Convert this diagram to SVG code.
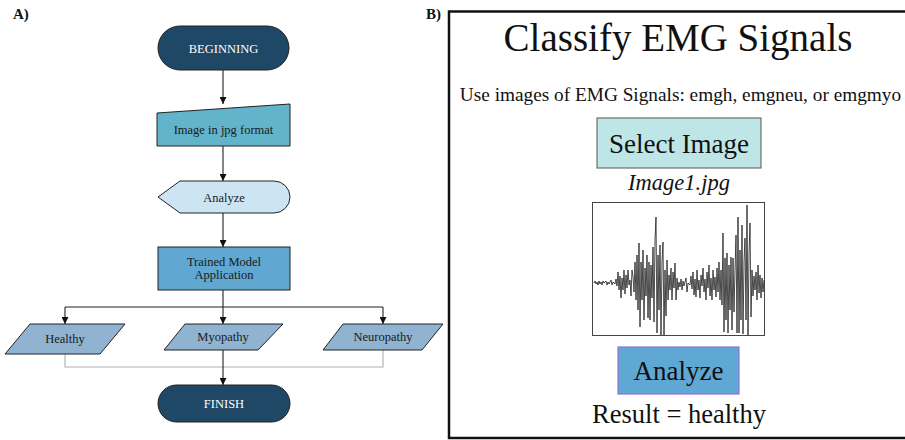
<svg xmlns="http://www.w3.org/2000/svg" width="905" height="440" viewBox="0 0 905 440">
  <defs>
    <marker id="arrow" viewBox="0 0 10 10" refX="10" refY="5" markerWidth="7" markerHeight="7" markerUnits="userSpaceOnUse" orient="auto">
      <path d="M0,0 L10,5 L0,10 Z" fill="#111"/>
    </marker>
  </defs>
  <style>
    text { font-family: 'Liberation Serif', 'DejaVu Serif', serif; }
    .lbl { font-size: 12.5px; fill: #1a1a1a; text-anchor: middle; }
    .lblw { font-size: 12.5px; fill: #ffffff; text-anchor: middle; }
    .panel { font-size: 15px; font-weight: bold; fill: #111; }
    .node { stroke: #222; stroke-width: 1; }
    .term { fill: #1e4866; }
    .outcome { fill: #8fb3d0; }
    .conn { fill: none; stroke: #222; stroke-width: 1.1; }
    .ui { fill: #111; text-anchor: middle; }
  </style>
  <rect width="905" height="440" fill="#ffffff"/>

  <!-- Panel A: flowchart -->
  <text class="panel" x="13" y="19">A)</text>

  <g id="connectors">
    <path class="conn" d="M223,70 L223,104" marker-end="url(#arrow)"/>
    <path class="conn" d="M223,146 L223,181" marker-end="url(#arrow)"/>
    <path class="conn" d="M223,213 L223,247" marker-end="url(#arrow)"/>
    <path class="conn" d="M223,290 L223,324" marker-end="url(#arrow)"/>
    <path class="conn" d="M65,307 L383,307"/>
    <path class="conn" d="M65,307 L65,324" marker-end="url(#arrow)"/>
    <path class="conn" d="M383,307 L383,324" marker-end="url(#arrow)"/>
    <path fill="none" stroke="#b0b0b0" stroke-width="1.1" d="M65,354 L65,367 L383,367 L383,350"/>
    <path class="conn" d="M223,350 L223,385" marker-end="url(#arrow)"/>
  </g>

  <g id="beginning">
    <rect class="node term" x="158" y="26" width="131" height="44" rx="22"/>
    <text class="lblw" x="223.5" y="52.5">BEGINNING</text>
  </g>

  <g id="image-input">
    <path class="node" fill="#61b4c9" d="M157,113 L290,104 L290,146 L157,146 Z"/>
    <text class="lbl" x="223.5" y="133.5">Image in jpg format</text>
  </g>

  <g id="analyze-step">
    <path class="node" fill="#cde5f3" d="M158,197 L180,181 L274,181 A16,16 0 0 1 274,213 L180,213 Z"/>
    <text class="lbl" x="224" y="201.5">Analyze</text>
  </g>

  <g id="trained-model">
    <rect class="node" fill="#60a7d2" x="158" y="247" width="132" height="43"/>
    <text class="lbl" x="224" y="266">Trained Model</text>
    <text class="lbl" x="224" y="279">Application</text>
  </g>

  <g id="healthy">
    <path class="node outcome" d="M30,324 L125,324 L100,354 L5,354 Z"/>
    <text class="lbl" x="65" y="343">Healthy</text>
  </g>

  <g id="myopathy">
    <path class="node outcome" d="M185,324 L283,324 L258,350 L164,350 Z"/>
    <text class="lbl" x="223" y="341">Myopathy</text>
  </g>

  <g id="neuropathy">
    <path class="node outcome" d="M343,324 L443,324 L422,350 L323,350 Z"/>
    <text class="lbl" x="383" y="341">Neuropathy</text>
  </g>

  <g id="finish">
    <rect class="node term" x="158" y="385" width="132" height="37" rx="18.5"/>
    <text class="lblw" x="224" y="407.5">FINISH</text>
  </g>

  <!-- Panel B: application window (right edge runs past the canvas) -->
  <text class="panel" x="426" y="19">B)</text>
  <g id="app-window">
    <rect x="449" y="11.5" width="480" height="426.5" fill="#ffffff" stroke="#111" stroke-width="2.5"/>
    <text class="ui" x="678" y="51" font-size="39">Classify EMG Signals</text>
    <text class="ui" x="680.5" y="101" font-size="19.3">Use images of EMG Signals: emgh, emgneu, or emgmyo</text>

    <g id="select-button">
      <rect x="597" y="118" width="164" height="50" fill="#bfe6e6" stroke="#555" stroke-width="1"/>
      <text class="ui" x="679" y="153" font-size="27">Select Image</text>
    </g>
    <text class="ui" x="679" y="190" font-size="22.5" font-style="italic">Image1.jpg</text>

    <g id="signal-preview">
      <rect x="592.5" y="202.5" width="172" height="133" fill="#ffffff" stroke="#444" stroke-width="1"/>
      <polyline fill="none" stroke="#111" stroke-width="0.75" stroke-linejoin="round" points="594,283 595,281 596,284 597,282 598,285 599,281 600,284 601,282 602,285 603,281 604,283 606,281 607,285 608,282 609,284 611,280 612,285 613,282 615,284 616,279 617,286 618,272 619,290 620,276 621,298 622,278 623,290 624,270 625,294 626,275 627,288 628,270 629,285 630,280 631,296 632,270 633,276 634,292 635,262 636,300 637,255 638,310 639,243 640,327 641,262 642,300 643,250 644,320 645,268 646,296 647,255 648,318 649,262 650,320 651,265 652,298 653,247 654,322 655,240 656,217 657,333 658,255 659,310 660,245 661,335 662,262 663,242 664,335 665,270 666,316 667,260 668,300 669,275 670,290 671,268 672,300 673,272 674,288 675,263 676,300 677,278 678,290 679,282 680,287 681,279 682,290 683,281 684,286 686,278 687,292 688,283 690,285 691,276 692,289 693,272 694,295 695,279 696,297 697,270 698,290 699,280 700,298 701,275 702,286 703,268 704,292 705,279 706,300 707,272 708,288 709,265 710,296 711,278 712,300 713,270 714,290 715,277 716,297 717,268 718,292 719,262 720,300 721,270 722,305 723,233 724,332 725,258 726,320 727,253 728,333 729,265 730,310 731,257 732,330 733,258 734,312 735,270 736,235 737,333 738,217 739,333 740,250 741,320 742,225 743,334 744,262 745,238 746,320 747,205 748,335 749,255 750,223 751,317 752,270 753,296 754,276 755,290 756,272 757,300 758,265 759,293 760,275 761,298 762,278 763,292 764,280"/>
    </g>

    <g id="analyze-button">
      <rect x="618" y="347" width="121" height="47" fill="#5fa8d3" stroke="#9a6fd0" stroke-width="1.2"/>
      <text class="ui" x="678.5" y="380" font-size="27">Analyze</text>
    </g>
    <text class="ui" x="679" y="423" font-size="26.5">Result = healthy</text>
  </g>
</svg>
